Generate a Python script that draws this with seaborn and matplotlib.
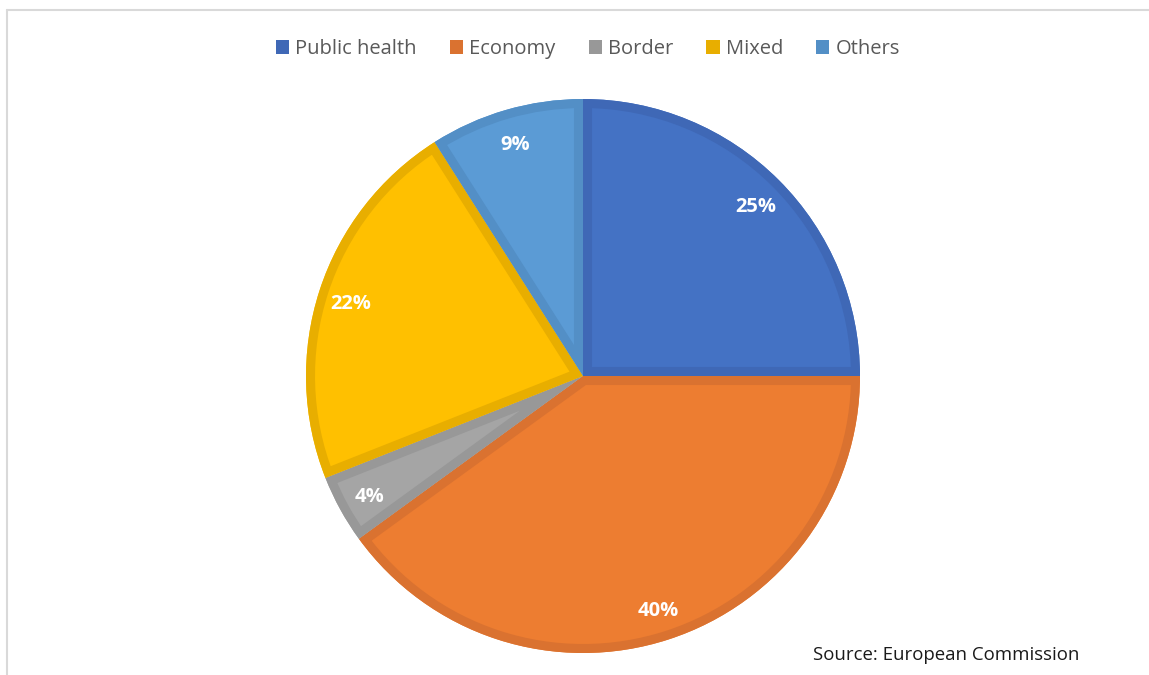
import matplotlib
matplotlib.use("Agg")
import matplotlib.pyplot as plt
from matplotlib.patches import Patch, Wedge
from matplotlib.lines import Line2D
import seaborn as sns

categories = ["Public health", "Economy", "Border", "Mixed", "Others"]
shares = [25, 40, 4, 22, 9]
fill_colors = ["#4472C4", "#ED7D31", "#A5A5A5", "#FFC000", "#5B9BD5"]
edge_colors = ["#3F68B6", "#DA7230", "#989898", "#E8AE00", "#538FC6"]
source_note = "Source: European Commission"

sns.set_theme(style="white")
plt.rcParams["font.family"] = ["Open Sans", "DejaVu Sans"]

W, H = 1149, 675
fig = plt.figure(figsize=(W / 100, H / 100), dpi=100)
fig.patch.set_facecolor("white")

cx, cy, r = 583, 376, 277
ax = fig.add_axes([(cx - r) / W, (H - cy - r) / H, 2 * r / W, 2 * r / H])

wedges, texts, autotexts = ax.pie(
    shares,
    colors=fill_colors,
    startangle=90,
    counterclock=False,
    radius=1,
    autopct=lambda p: f"{p:.0f}%",
    pctdistance=0.88,
    wedgeprops=dict(linewidth=0),
    textprops=dict(color="white", fontsize=14.5, fontweight="bold"),
)
# darker inner border: a stroked copy of each wedge, clipped to the wedge itself
for w, ec in zip(wedges, edge_colors):
    rim = Wedge(w.center, w.r, w.theta1, w.theta2, facecolor="none",
                edgecolor=ec, linewidth=13, joinstyle="miter", zorder=w.get_zorder() + 0.1)
    ax.add_patch(rim)
    rim.set_clip_path(w)
for t in autotexts:
    t.set_zorder(5)
    x, y = t.get_position()
    t.set_position((x, y - 0.012))
ax.set_xlim(-1, 1)
ax.set_ylim(-1, 1)
ax.set_aspect("equal")
ax.axis("off")

handles = [Patch(facecolor=c, edgecolor="none") for c in edge_colors]
leg = fig.legend(
    handles, categories,
    loc="center", bbox_to_anchor=(588 / W, 1 - 49 / H),
    ncol=5, frameon=False, fontsize=14.5,
    handlelength=0.65, handleheight=0.65, handletextpad=0.3,
    columnspacing=1.65,
)
for t in leg.get_texts():
    t.set_color("#595959")

fig.text(813 / W, 1 - 655 / H, source_note, ha="left", va="center",
         fontsize=13.4, color="#1a1a1a")

# thin grey frame on the top and left edges
fig.add_artist(Line2D([6.5 / W, 6.5 / W], [0, 1 - 9.5 / H], transform=fig.transFigure,
                      color="#D9D9D9", linewidth=1.5))
fig.add_artist(Line2D([6.5 / W, 1], [1 - 9.5 / H, 1 - 9.5 / H], transform=fig.transFigure,
                      color="#D9D9D9", linewidth=1.5))

fig.savefig("out.png", dpi=100)
